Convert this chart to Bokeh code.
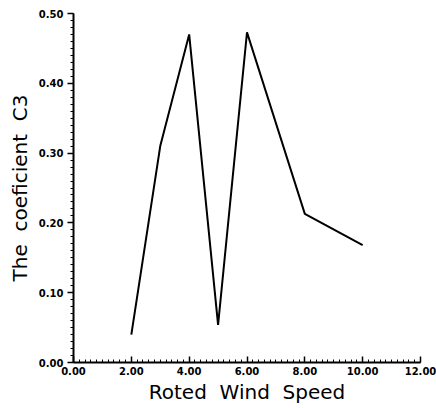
from bokeh.plotting import figure
from bokeh.models import FixedTicker, Range1d, CustomJSTickFormatter
from bokeh.embed import file_html
from bokeh.resources import INLINE

wind_speed = [2.0, 3.0, 4.0, 5.0, 6.0, 8.0, 10.0]
coef_c3 = [0.04, 0.31, 0.47, 0.054, 0.473, 0.213, 0.168]

x_major = [0, 2, 4, 6, 8, 10, 12]
y_major = [0.0, 0.1, 0.2, 0.3, 0.4, 0.5]
x_minor = [i * 0.2 for i in range(61)]
y_minor = [i * 0.01 for i in range(51)]

x_title = "Roted\u00a0 Wind\u00a0 Speed"
y_title = "The\u00a0 coeficient\u00a0 C3"

p = figure(width=436, height=408, output_backend="svg", toolbar_location=None,
           x_range=Range1d(0, 12), y_range=Range1d(0, 0.5),
           min_border_left=73, min_border_right=16, min_border_top=13, min_border_bottom=46)
p.outline_line_color = None
p.grid.visible = False
p.background_fill_color = "white"
p.border_fill_color = "white"

p.line(wind_speed, coef_c3, line_color="black", line_width=2)

font = "DejaVu Sans"
p.xaxis.ticker = FixedTicker(ticks=x_major, minor_ticks=x_minor)
p.yaxis.ticker = FixedTicker(ticks=y_major, minor_ticks=y_minor)
p.xaxis.formatter = CustomJSTickFormatter(code="return tick.toFixed(2);")
p.yaxis.formatter = CustomJSTickFormatter(code="return tick.toFixed(2);")

for ax in (p.xaxis, p.yaxis):
    ax.axis_line_color = "black"
    ax.axis_line_width = 2
    ax.major_tick_line_color = "black"
    ax.major_tick_line_width = 1.5
    ax.minor_tick_line_color = "black"
    ax.minor_tick_line_width = 1
    ax.major_label_text_font = font
    ax.major_label_text_font_size = "10px"
    ax.major_label_text_font_style = "bold"
    ax.major_label_text_color = "black"
    ax.axis_label_text_font = font
    ax.axis_label_text_font_size = "20px"
    ax.axis_label_text_font_style = "normal"
    ax.axis_label_text_color = "black"

p.xaxis.major_tick_in = 6
p.xaxis.major_tick_out = 0
p.xaxis.minor_tick_in = 3
p.xaxis.minor_tick_out = 0
p.xaxis.major_label_standoff = 4
p.xaxis.axis_label = x_title
p.xaxis.axis_label_standoff = 2

p.yaxis.major_tick_in = 0
p.yaxis.major_tick_out = 6
p.yaxis.minor_tick_in = 0
p.yaxis.minor_tick_out = 3
p.yaxis.major_label_standoff = 4
p.yaxis.axis_label = y_title
p.yaxis.axis_label_standoff = 4

open("out.html", "w").write(file_html(p, INLINE))
